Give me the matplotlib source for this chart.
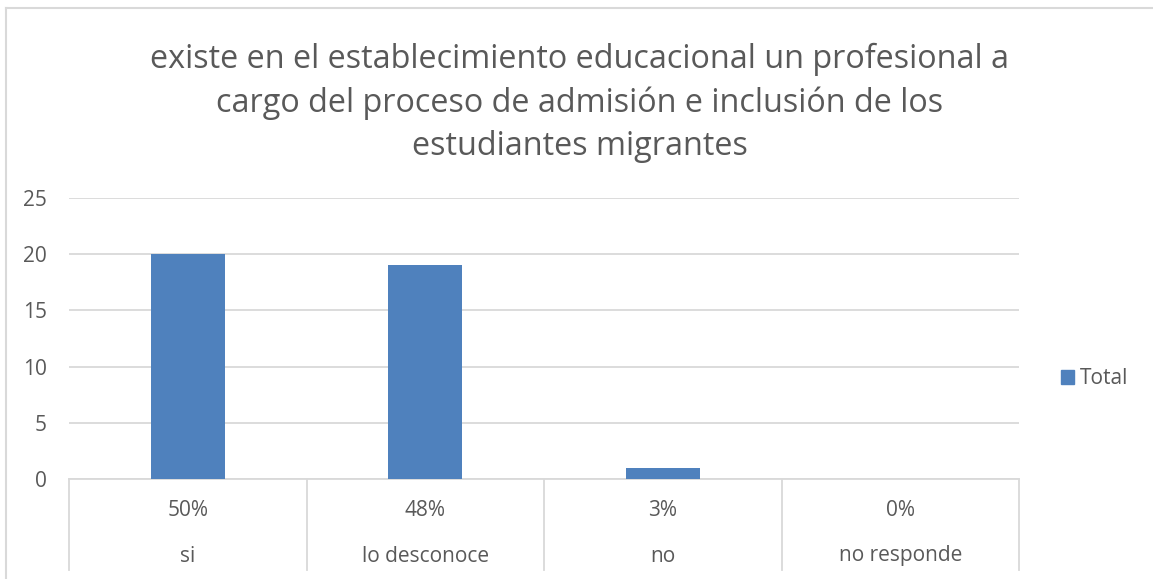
import matplotlib.pyplot as plt
import matplotlib.transforms as mtransforms
from matplotlib.patches import Rectangle

# datos
categorias = ["si", "lo desconoce", "no", "no responde"]
porcentajes = ["50%", "48%", "3%", "0%"]
totales = [20, 19, 1, 0]
titulo = "existe en el establecimiento educacional un profesional a\ncargo del proceso de admisión e inclusión de los\nestudiantes migrantes"

gris = "#595959"
linea = "#d9d9d9"
azul = "#4f81bd"
plt.rcParams["font.family"] = ["Open Sans", "DejaVu Sans"]

W, H = 1153, 579
fig = plt.figure(figsize=(W / 100, H / 100), dpi=100)

# borde del gráfico (sólo izquierda y arriba visibles)
fig.add_artist(plt.Line2D([6 / W, 6 / W], [0, 1 - 8 / H], color=linea, lw=1.5))
fig.add_artist(plt.Line2D([6 / W, 1], [1 - 8 / H, 1 - 8 / H], color=linea, lw=1.5))

x0, x1, y0, y1 = 69, 1019, 479, 198
ax = fig.add_axes([x0 / W, 1 - y0 / H, (x1 - x0) / W, (y0 - y1) / H])

pos = range(len(categorias))
ax.bar(pos, totales, width=0.31, color=azul, label="Total", zorder=3)
ax.set_xlim(-0.5, len(categorias) - 0.5)
ax.set_ylim(0, 25)
ax.set_yticks(range(0, 26, 5))
ax.yaxis.grid(True, color=linea, lw=1.3, zorder=0)
ax.tick_params(axis="y", length=0, pad=16, labelsize=15, labelcolor=gris)
ax.tick_params(axis="x", length=0)
ax.set_xticks([])
for s in ["top", "right", "left"]:
    ax.spines[s].set_visible(False)
ax.spines["bottom"].set_color(linea)
ax.spines["bottom"].set_linewidth(1.3)

# eje de categorías con dos niveles
tr = mtransforms.blended_transform_factory(ax.transData, fig.transFigure)
for i in range(len(categorias) + 1):
    xs = i - 0.5
    ax.add_line(plt.Line2D([xs, xs], [1 - y0 / H, 1 - 570 / H], transform=tr,
                           color=linea, lw=1.3, clip_on=False))
for i, (p, c) in enumerate(zip(porcentajes, categorias)):
    ax.text(i, 1 - 510 / H, p, transform=tr, ha="center", va="center",
            fontsize=15, color=gris)
    ax.text(i, 1 - 556 / H, c, transform=tr, ha="center", va="center",
            fontsize=15, color=gris)

fig.text(580 / W, 1 - 103 / H, titulo, ha="center", va="center",
         fontsize=23.3, color=gris, linespacing=1.4)

# leyenda
fig.add_artist(Rectangle((1061 / W, 1 - 384 / H), 13 / W, 14 / H,
                         transform=fig.transFigure, color=azul))
fig.text(1080 / W, 1 - 378 / H, "Total", ha="left", va="center",
         fontsize=15, color=gris)

fig.savefig("out.png", dpi=100)
